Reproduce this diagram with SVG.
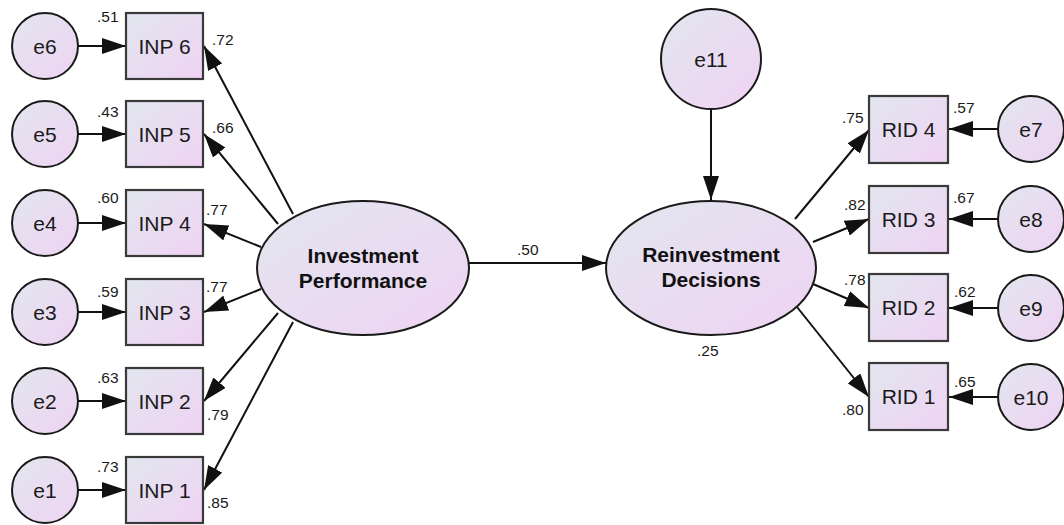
<svg xmlns="http://www.w3.org/2000/svg" width="1064" height="525" viewBox="0 0 1064 525">
  <defs>
    <linearGradient id="fillGrad" x1="0" y1="0" x2="1" y2="1">
      <stop offset="0" stop-color="#e2e6ef"/>
      <stop offset="1" stop-color="#efd3f3"/>
    </linearGradient>
    <marker id="arrow" markerUnits="userSpaceOnUse" viewBox="0 0 24 16" markerWidth="24" markerHeight="16" refX="24" refY="8" orient="auto">
      <path d="M0,0 L24,8 L0,16 z" fill="#111"/>
    </marker>
    <style>
      .node { fill: url(#fillGrad); stroke: #1a1a1a; stroke-width: 2; }
      .box { fill: url(#fillGrad); stroke: #3a3a3a; stroke-width: 2.2; }
      .lbl { font-family: "Liberation Sans", Arial, sans-serif; font-size: 21px; fill: #1a1a1a; text-anchor: middle; }
      .big { font-family: "Liberation Sans", Arial, sans-serif; font-size: 21px; font-weight: bold; fill: #111; text-anchor: middle; }
      .val { font-family: "Liberation Sans", Arial, sans-serif; font-size: 15.5px; fill: #1a1a1a; }
      .edge { stroke: #111; stroke-width: 2; fill: none; marker-end: url(#arrow); }
    </style>
  </defs>

  <rect width="1064" height="525" fill="#ffffff"/>

  <!-- connectors -->
  <g id="connectors">
    <!-- error terms to indicators (left) -->
    <line class="edge" x1="78" y1="46" x2="126" y2="46"/>
    <line class="edge" x1="78" y1="134" x2="126" y2="134"/>
    <line class="edge" x1="78" y1="223" x2="126" y2="223"/>
    <line class="edge" x1="78" y1="312" x2="126" y2="312"/>
    <line class="edge" x1="78" y1="401" x2="126" y2="401"/>
    <line class="edge" x1="78" y1="490" x2="126" y2="490"/>
    <!-- latent to indicators (left) -->
    <line class="edge" x1="293" y1="214" x2="204" y2="46"/>
    <line class="edge" x1="278" y1="224" x2="204" y2="134"/>
    <line class="edge" x1="261" y1="247" x2="204" y2="224"/>
    <line class="edge" x1="261" y1="289" x2="204" y2="312"/>
    <line class="edge" x1="278" y1="313" x2="204" y2="401"/>
    <line class="edge" x1="293" y1="322" x2="204" y2="490"/>
    <!-- structural path -->
    <line class="edge" x1="469" y1="263" x2="606" y2="263"/>
    <!-- disturbance -->
    <line class="edge" x1="711" y1="109" x2="711" y2="200"/>
    <!-- latent to indicators (right) -->
    <line class="edge" x1="795" y1="219" x2="869" y2="130"/>
    <line class="edge" x1="813" y1="242" x2="869" y2="219"/>
    <line class="edge" x1="813" y1="284" x2="869" y2="308"/>
    <line class="edge" x1="797" y1="307" x2="869" y2="397"/>
    <!-- error terms to indicators (right) -->
    <line class="edge" x1="998" y1="129" x2="949" y2="129"/>
    <line class="edge" x1="998" y1="219" x2="949" y2="219"/>
    <line class="edge" x1="998" y1="308" x2="949" y2="308"/>
    <line class="edge" x1="998" y1="397" x2="949" y2="397"/>
  </g>

  <!-- left error terms -->
  <g id="e6"><circle class="node" cx="45" cy="46" r="33"/><text class="lbl" x="45" y="54">e6</text></g>
  <g id="e5"><circle class="node" cx="45" cy="134" r="33"/><text class="lbl" x="45" y="142">e5</text></g>
  <g id="e4"><circle class="node" cx="45" cy="223" r="33"/><text class="lbl" x="45" y="231">e4</text></g>
  <g id="e3"><circle class="node" cx="45" cy="312" r="33"/><text class="lbl" x="45" y="320">e3</text></g>
  <g id="e2"><circle class="node" cx="45" cy="401" r="33"/><text class="lbl" x="45" y="409">e2</text></g>
  <g id="e1"><circle class="node" cx="45" cy="490" r="33"/><text class="lbl" x="45" y="498">e1</text></g>

  <!-- left indicators -->
  <g id="INP6"><rect class="box" x="126" y="13" width="77" height="66"/><text class="lbl" x="164.5" y="54">INP 6</text></g>
  <g id="INP5"><rect class="box" x="126" y="101" width="77" height="66"/><text class="lbl" x="164.5" y="142">INP 5</text></g>
  <g id="INP4"><rect class="box" x="126" y="190" width="77" height="66"/><text class="lbl" x="164.5" y="231">INP 4</text></g>
  <g id="INP3"><rect class="box" x="126" y="279" width="77" height="66"/><text class="lbl" x="164.5" y="320">INP 3</text></g>
  <g id="INP2"><rect class="box" x="126" y="368" width="77" height="66"/><text class="lbl" x="164.5" y="409">INP 2</text></g>
  <g id="INP1"><rect class="box" x="126" y="457" width="77" height="66"/><text class="lbl" x="164.5" y="498">INP 1</text></g>

  <!-- latent constructs -->
  <g id="InvestmentPerformance">
    <ellipse class="node" cx="363" cy="268" rx="106" ry="67"/>
    <text class="big" x="363" y="263">Investment</text>
    <text class="big" x="363" y="288">Performance</text>
  </g>
  <g id="ReinvestmentDecisions">
    <ellipse class="node" cx="711" cy="268" rx="105" ry="67"/>
    <text class="big" x="711" y="262">Reinvestment</text>
    <text class="big" x="711" y="287">Decisions</text>
  </g>
  <g id="e11"><circle class="node" cx="711" cy="59" r="50"/><text class="lbl" x="711" y="67">e11</text></g>

  <!-- right indicators -->
  <g id="RID4"><rect class="box" x="869" y="96" width="79" height="67"/><text class="lbl" x="908.5" y="137">RID 4</text></g>
  <g id="RID3"><rect class="box" x="869" y="186" width="79" height="67"/><text class="lbl" x="908.5" y="227">RID 3</text></g>
  <g id="RID2"><rect class="box" x="869" y="274" width="79" height="67"/><text class="lbl" x="908.5" y="315">RID 2</text></g>
  <g id="RID1"><rect class="box" x="869" y="363" width="79" height="67"/><text class="lbl" x="908.5" y="404">RID 1</text></g>

  <!-- right error terms -->
  <g id="e7"><circle class="node" cx="1031" cy="129" r="33"/><text class="lbl" x="1031" y="137">e7</text></g>
  <g id="e8"><circle class="node" cx="1031" cy="219" r="33"/><text class="lbl" x="1031" y="227">e8</text></g>
  <g id="e9"><circle class="node" cx="1031" cy="308" r="33"/><text class="lbl" x="1031" y="316">e9</text></g>
  <g id="e10"><circle class="node" cx="1031" cy="397" r="33"/><text class="lbl" x="1031" y="405">e10</text></g>

  <!-- estimates -->
  <g id="estimates">
    <text class="val" x="97" y="22">.51</text>
    <text class="val" x="212" y="45">.72</text>
    <text class="val" x="97" y="117">.43</text>
    <text class="val" x="212" y="133">.66</text>
    <text class="val" x="97" y="203">.60</text>
    <text class="val" x="206" y="215">.77</text>
    <text class="val" x="97" y="297">.59</text>
    <text class="val" x="206" y="292">.77</text>
    <text class="val" x="97" y="383">.63</text>
    <text class="val" x="207" y="420">.79</text>
    <text class="val" x="97" y="472">.73</text>
    <text class="val" x="207" y="508">.85</text>
    <text class="val" x="517" y="255">.50</text>
    <text class="val" x="697" y="356">.25</text>
    <text class="val" x="842" y="123">.75</text>
    <text class="val" x="953" y="113">.57</text>
    <text class="val" x="844" y="210">.82</text>
    <text class="val" x="953" y="203">.67</text>
    <text class="val" x="844" y="285">.78</text>
    <text class="val" x="954" y="297">.62</text>
    <text class="val" x="954" y="387">.65</text>
    <text class="val" x="842" y="415">.80</text>
  </g>
</svg>
